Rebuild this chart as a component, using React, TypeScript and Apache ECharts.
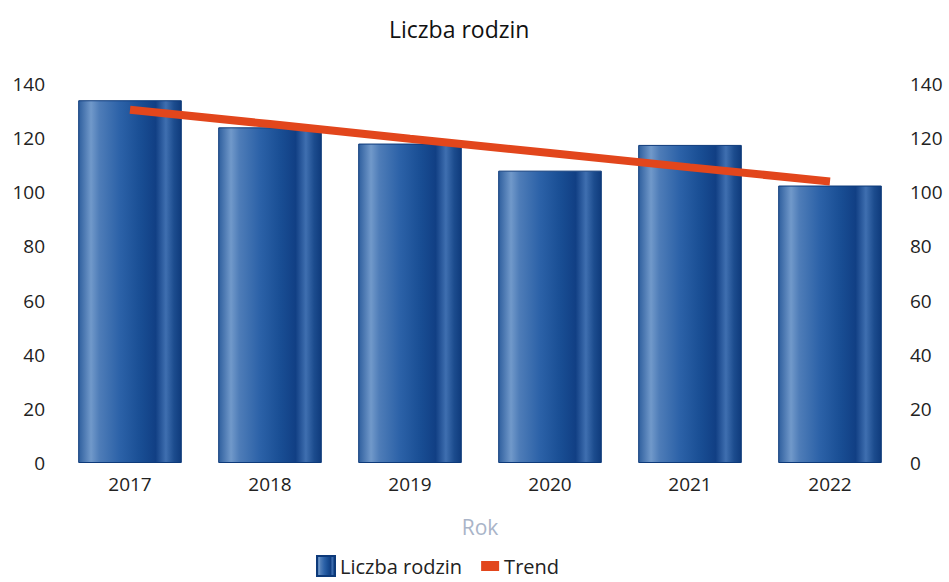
import React, { useEffect, useRef } from "react";
import * as echarts from "echarts";

const categories = ["2017", "2018", "2019", "2020", "2021", "2022"];
const familyCounts = [134, 124, 118, 108, 117.5, 102.5];
const trendValues = [130.5, 125.2, 119.8, 114.5, 109.2, 104];

const barGradient = new echarts.graphic.LinearGradient(0, 0, 1, 0, [
  { offset: 0, color: "#2f5f9e" },
  { offset: 0.12, color: "#7199ca" },
  { offset: 0.2, color: "#4f7db8" },
  { offset: 0.4, color: "#2c62a8" },
  { offset: 0.6, color: "#194e94" },
  { offset: 0.75, color: "#113f84" },
  { offset: 0.85, color: "#3f6fb0" },
  { offset: 0.93, color: "#1c4c8e" },
  { offset: 1, color: "#0f3b7c" },
]);

export default function App() {
  const ref = useRef<HTMLDivElement>(null);
  useEffect(() => {
    if (!ref.current) return;
    const chart = echarts.init(ref.current, null, { renderer: "svg" });
    const font = "'Open Sans', sans-serif";
    chart.setOption({
      animation: false,
      backgroundColor: "#ffffff",
      textStyle: { fontFamily: font },
      title: {
        text: "Liczba rodzin",
        left: 384,
        top: 12,
        textStyle: { fontFamily: font, fontSize: 23, fontWeight: "normal", color: "#111" },
      },
      legend: {
        bottom: 0,
        left: 311,
        itemWidth: 18,
        itemHeight: 20,
        itemGap: 19,
        textStyle: { fontFamily: font, fontSize: 20, color: "#222" },
        data: [
          { name: "Liczba rodzin", icon: "rect", itemStyle: { color: barGradient } },
          { name: "Trend", icon: "path://M0,5 L18,5 L18,15 L0,15 Z", itemStyle: { color: "#e2461c" } },
        ],
      },
      grid: { left: 60, right: 49, top: 84, bottom: 119 },
      xAxis: {
        type: "category",
        data: categories,
        name: "Rok",
        nameLocation: "middle",
        nameGap: 53,
        nameTextStyle: { fontFamily: font, fontSize: 21, color: "#a9b4c8" },
        axisLine: { show: false },
        axisTick: { show: false },
        axisLabel: { fontFamily: font, fontSize: 19, color: "#222", margin: 11 },
      },
      yAxis: [
        {
          type: "value",
          min: 0,
          max: 140,
          interval: 20,
          splitLine: { show: false },
          axisLine: { show: false },
          axisTick: { show: false },
          axisLabel: { fontFamily: font, fontSize: 19, color: "#222", margin: 15 },
        },
        {
          type: "value",
          min: 0,
          max: 140,
          interval: 20,
          position: "right",
          splitLine: { show: false },
          axisLine: { show: false },
          axisTick: { show: false },
          axisLabel: { fontFamily: font, fontSize: 19, color: "#222", margin: 10 },
        },
      ],
      series: [
        {
          name: "Liczba rodzin",
          type: "bar",
          data: familyCounts,
          barWidth: "74%",
          itemStyle: { color: barGradient, borderColor: "#0d3a7a", borderWidth: 1 },
        },
        {
          name: "Trend",
          type: "line",
          data: trendValues,
          symbol: "none",
          lineStyle: { color: "#e2461c", width: 8, cap: "butt" },
          itemStyle: { color: "#e2461c" },
          z: 5,
        },
      ],
    });
    return () => chart.dispose();
  }, []);
  return (
    <div
      ref={ref}
      style={{ position: "fixed", left: 0, top: 0, width: 949, height: 582, background: "#fff" }}
    />
  );
}
